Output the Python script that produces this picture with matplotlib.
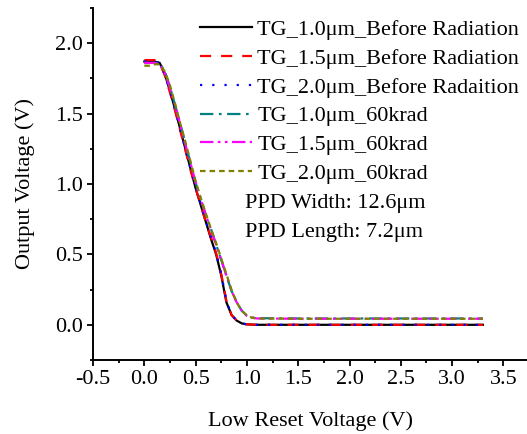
import numpy as np
import matplotlib.pyplot as plt
from matplotlib.ticker import MultipleLocator

plt.rcParams['font.family'] = ['Liberation Serif', 'DejaVu Serif']

# Data
x_before = [0.0, 0.05, 0.1, 0.15, 0.2, 0.25, 0.3, 0.35, 0.4, 0.45, 0.5, 0.55, 0.6,
            0.65, 0.7, 0.75, 0.8, 0.85, 0.9, 0.95, 1.0, 1.1, 1.5, 2.0, 2.5, 3.0, 3.3]
y_tg10_before = [1.87, 1.87, 1.87, 1.86, 1.78, 1.66, 1.53, 1.39, 1.25, 1.11, 0.97, 0.85, 0.73,
                 0.61, 0.50, 0.35, 0.16, 0.07, 0.03, 0.01, 0.003, 0.0, 0.0, 0.0, 0.0, 0.0, 0.0]
y_tg15_before = [1.88, 1.88, 1.88, 1.86, 1.77, 1.65, 1.52, 1.38, 1.24, 1.10, 0.97, 0.85, 0.73,
                 0.62, 0.51, 0.36, 0.17, 0.07, 0.03, 0.01, 0.003, 0.0, 0.0, 0.0, 0.0, 0.0, 0.0]
y_tg20_before = [1.87, 1.87, 1.87, 1.86, 1.78, 1.66, 1.53, 1.39, 1.25, 1.11, 0.98, 0.86, 0.74,
                 0.62, 0.51, 0.36, 0.17, 0.07, 0.03, 0.01, 0.003, 0.0, 0.0, 0.0, 0.0, 0.0, 0.0]

x_rad = [0.0, 0.05, 0.1, 0.15, 0.2, 0.25, 0.3, 0.35, 0.4, 0.45, 0.5, 0.55, 0.6, 0.65, 0.7,
         0.75, 0.8, 0.85, 0.9, 0.95, 1.0, 1.05, 1.1, 1.5, 2.0, 2.5, 3.0, 3.3]
y_tg10_rad = [1.86, 1.86, 1.86, 1.86, 1.80, 1.69, 1.56, 1.43, 1.29, 1.15, 1.01, 0.89, 0.78,
              0.68, 0.57, 0.46, 0.35, 0.24, 0.16, 0.10, 0.065, 0.052, 0.047, 0.045, 0.045,
              0.045, 0.045, 0.045]
y_tg15_rad = [1.86, 1.86, 1.86, 1.85, 1.79, 1.68, 1.56, 1.42, 1.28, 1.15, 1.01, 0.89, 0.78,
              0.67, 0.57, 0.46, 0.35, 0.24, 0.16, 0.10, 0.063, 0.05, 0.045, 0.043, 0.043,
              0.043, 0.043, 0.043]
y_tg20_rad = [1.84, 1.84, 1.85, 1.85, 1.80, 1.70, 1.57, 1.43, 1.30, 1.16, 1.02, 0.90, 0.79,
              0.68, 0.58, 0.47, 0.36, 0.25, 0.16, 0.10, 0.065, 0.05, 0.045, 0.043, 0.043,
              0.043, 0.043, 0.043]

labels = ['TG_1.0μm_Before Radiation', 'TG_1.5μm_Before Radiation',
          'TG_2.0μm_Before Radaition', 'TG_1.0μm_60krad',
          'TG_1.5μm_60krad', 'TG_2.0μm_60krad']

fs = 16
fig = plt.figure(figsize=(5.27, 4.34), dpi=100)
ax = fig.add_axes([0.1765, 0.1705, 0.8235, 0.8111])

lw = 1.6
ax.plot(x_before, y_tg10_before, color='black', lw=lw, label=labels[0])
ax.plot(x_before, y_tg15_before, color='red', lw=lw, dashes=(5, 4.5), label=labels[1])
ax.plot(x_before, y_tg20_before, color='blue', lw=lw, dashes=(1, 4.5), label=labels[2])
ax.plot(x_rad, y_tg10_rad, color='#008080', lw=lw, dashes=(6, 2.5, 1.2, 2.5), label=labels[3])
ax.plot(x_rad, y_tg15_rad, color='magenta', lw=lw, dashes=(6, 2, 1.2, 2, 1.2, 2), label=labels[4])
ax.plot(x_rad, y_tg20_rad, color='#808000', lw=lw, dashes=(2.5, 1.8), label=labels[5])

ax.set_xlim(-0.5, 3.73)
ax.set_ylim(-0.25, 2.25)
ax.xaxis.set_major_locator(MultipleLocator(0.5))
ax.xaxis.set_minor_locator(MultipleLocator(0.25))
ax.yaxis.set_major_locator(MultipleLocator(0.5))
ax.yaxis.set_minor_locator(MultipleLocator(0.25))
ax.xaxis.set_major_formatter(lambda v, p: f'{v:.1f}')
ax.yaxis.set_major_formatter(lambda v, p: f'{v:.1f}')
ax.tick_params(which='major', direction='out', length=4.5, width=1.3, labelsize=fs, pad=3)
ax.tick_params(which='minor', direction='out', length=2.5, width=1.3)
ax.spines['top'].set_visible(False)
ax.spines['right'].set_visible(False)
ax.spines['left'].set_linewidth(1.4)
ax.spines['bottom'].set_linewidth(1.4)

ax.set_xlabel('Low Reset Voltage (V)', fontsize=fs, labelpad=16)
ax.set_ylabel('Output Voltage (V)', fontsize=fs, labelpad=14)

ax.legend(loc='upper left', bbox_to_anchor=(0.2465, 0.967), frameon=False, fontsize=fs,
          handlelength=2.35, handletextpad=0.22, labelspacing=0.37, borderpad=0,
          borderaxespad=0)
ax.text(0.350, 0.446, 'PPD Width: 12.6μm', transform=ax.transAxes, fontsize=fs, va='center')
ax.text(0.350, 0.361, 'PPD Length: 7.2μm', transform=ax.transAxes, fontsize=fs, va='center')

fig.savefig('out.png', dpi=100)
